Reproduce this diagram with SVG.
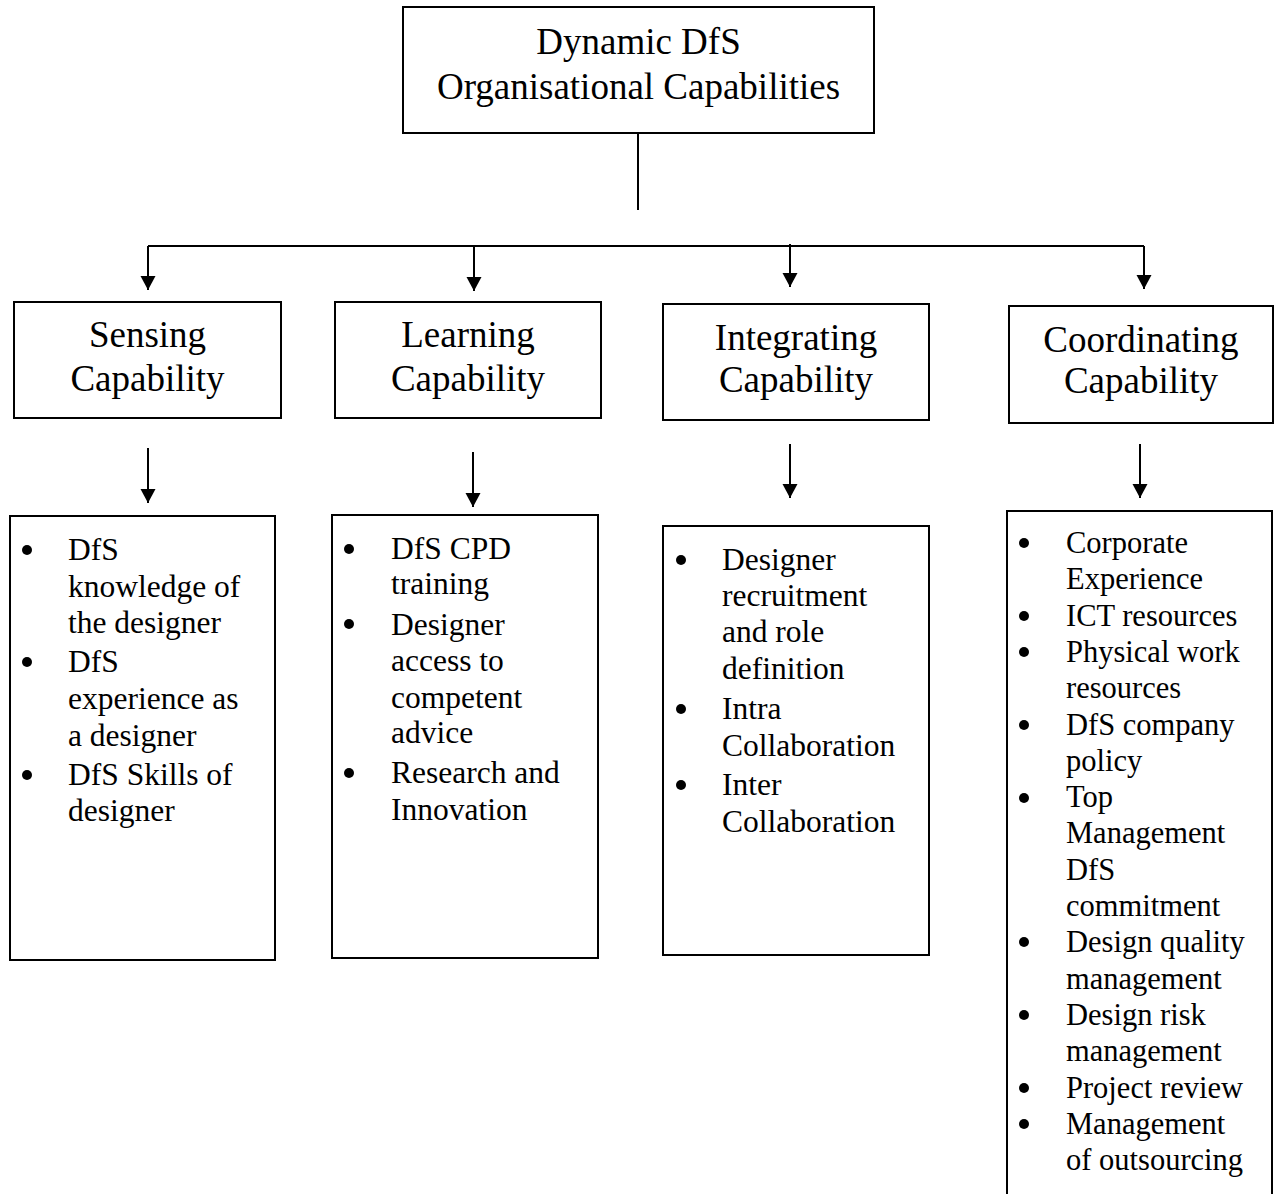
<svg xmlns="http://www.w3.org/2000/svg" width="1275" height="1194" viewBox="0 0 1275 1194">
<defs>
<marker id="ah" markerUnits="userSpaceOnUse" markerWidth="15" markerHeight="16" refX="14" refY="7.5" orient="auto">
<path d="M0,0 L14,7.5 L0,15 z" fill="#000"/>
</marker>
<style>
.box{fill:#fff;stroke:#000;stroke-width:2}
.t{font-family:"Liberation Serif","Times New Roman",serif;fill:#000}
.h{font-size:37px;text-anchor:middle}
.top{font-size:37px;text-anchor:middle}
.li{font-size:31.5px}
.lc{font-size:30.5px}
.c{stroke:#000;stroke-width:2;fill:none}
.a{marker-end:url(#ah)}
</style>
</defs>
<rect width="1275" height="1194" fill="#fff"/>

<g id="connectors">
<path class="c" d="M638,133 V210"/>
<path class="c" d="M148,246 H1144"/>
<path class="c a" d="M148,246 V290"/>
<path class="c a" d="M474,246 V291"/>
<path class="c a" d="M790,244 V287"/>
<path class="c a" d="M1144,246 V289"/>
<path class="c a" d="M148,448 V503"/>
<path class="c a" d="M473,452 V507"/>
<path class="c a" d="M790,444 V498"/>
<path class="c a" d="M1140,444 V498"/>
</g>

<g id="root">
<rect class="box" x="403" y="7" width="471" height="126"/>
<text class="t top" x="638.5" y="54">Dynamic DfS</text>
<text class="t top" x="638.5" y="99">Organisational Capabilities</text>
</g>

<g id="sensing">
<rect class="box" x="14" y="302" width="267" height="116"/>
<text class="t h" x="147.5" y="347">Sensing</text>
<text class="t h" x="147.5" y="391">Capability</text>
</g>
<g id="learning">
<rect class="box" x="335" y="302" width="266" height="116"/>
<text class="t h" x="468" y="347">Learning</text>
<text class="t h" x="468" y="391">Capability</text>
</g>
<g id="integrating">
<rect class="box" x="663" y="304" width="266" height="116"/>
<text class="t h" x="796" y="350">Integrating</text>
<text class="t h" x="796" y="392">Capability</text>
</g>
<g id="coordinating">
<rect class="box" x="1009" y="306" width="264" height="117"/>
<text class="t h" x="1141" y="352">Coordinating</text>
<text class="t h" x="1141" y="393">Capability</text>
</g>

<g id="sensing-list">
<rect class="box" x="10" y="516" width="265" height="444"/>
<circle cx="27" cy="550" r="5"/>
<circle cx="27" cy="662" r="5"/>
<circle cx="27" cy="775" r="5"/>
<text class="t li" x="68" y="560">DfS</text>
<text class="t li" x="68" y="597">knowledge of</text>
<text class="t li" x="68" y="633">the designer</text>
<text class="t li" x="68" y="672">DfS</text>
<text class="t li" x="68" y="709">experience as</text>
<text class="t li" x="68" y="746">a designer</text>
<text class="t li" x="68" y="785">DfS Skills of</text>
<text class="t li" x="68" y="821">designer</text>
</g>

<g id="learning-list">
<rect class="box" x="332" y="515" width="266" height="443"/>
<circle cx="349" cy="549" r="5"/>
<circle cx="349" cy="624" r="5"/>
<circle cx="349" cy="773" r="5"/>
<text class="t li" x="391" y="559">DfS CPD</text>
<text class="t li" x="391" y="594">training</text>
<text class="t li" x="391" y="635">Designer</text>
<text class="t li" x="391" y="671">access to</text>
<text class="t li" x="391" y="708">competent</text>
<text class="t li" x="391" y="743">advice</text>
<text class="t li" x="391" y="783">Research and</text>
<text class="t li" x="391" y="820">Innovation</text>
</g>

<g id="integrating-list">
<rect class="box" x="663" y="526" width="266" height="429"/>
<circle cx="681" cy="560" r="5"/>
<circle cx="681" cy="709" r="5"/>
<circle cx="681" cy="785" r="5"/>
<text class="t li" x="722" y="570">Designer</text>
<text class="t li" x="722" y="606">recruitment</text>
<text class="t li" x="722" y="642">and role</text>
<text class="t li" x="722" y="679">definition</text>
<text class="t li" x="722" y="719">Intra</text>
<text class="t li" x="722" y="756">Collaboration</text>
<text class="t li" x="722" y="795">Inter</text>
<text class="t li" x="722" y="832">Collaboration</text>
</g>

<g id="coordinating-list">
<rect class="box" x="1007" y="511" width="265" height="700"/>
<circle cx="1024" cy="543" r="5"/>
<circle cx="1024" cy="616" r="5"/>
<circle cx="1024" cy="652" r="5"/>
<circle cx="1024" cy="725" r="5"/>
<circle cx="1024" cy="798" r="5"/>
<circle cx="1024" cy="942" r="5"/>
<circle cx="1024" cy="1015" r="5"/>
<circle cx="1024" cy="1088" r="5"/>
<circle cx="1024" cy="1124" r="5"/>
<text class="t lc" x="1066" y="553">Corporate</text>
<text class="t lc" x="1066" y="589">Experience</text>
<text class="t lc" x="1066" y="626">ICT resources</text>
<text class="t lc" x="1066" y="662">Physical work</text>
<text class="t lc" x="1066" y="698">resources</text>
<text class="t lc" x="1066" y="735">DfS company</text>
<text class="t lc" x="1066" y="771">policy</text>
<text class="t lc" x="1066" y="807">Top</text>
<text class="t lc" x="1066" y="843">Management</text>
<text class="t lc" x="1066" y="880">DfS</text>
<text class="t lc" x="1066" y="916">commitment</text>
<text class="t lc" x="1066" y="952">Design quality</text>
<text class="t lc" x="1066" y="989">management</text>
<text class="t lc" x="1066" y="1025">Design risk</text>
<text class="t lc" x="1066" y="1061">management</text>
<text class="t lc" x="1066" y="1098">Project review</text>
<text class="t lc" x="1066" y="1134">Management</text>
<text class="t lc" x="1066" y="1170">of outsourcing</text>
</g>
</svg>
